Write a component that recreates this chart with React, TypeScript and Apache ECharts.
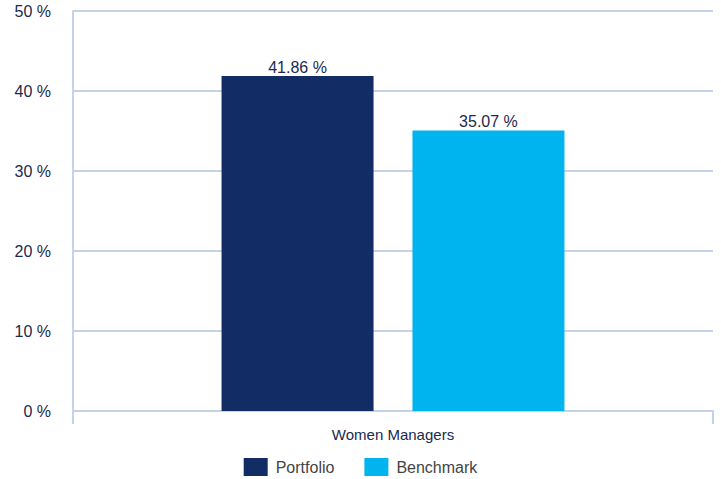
import React, { useEffect, useRef } from "react";
import * as echarts from "echarts";

const categories = ["Women Managers"];
const portfolioValues = [41.86];
const benchmarkValues = [35.07];
const yTicks = { min: 0, max: 50, interval: 10 };

export default function App() {
  const ref = useRef<HTMLDivElement>(null);
  useEffect(() => {
    document.body.style.margin = "0";
    const chart = echarts.init(ref.current!, null, { renderer: "svg" });
    const labelStyle = {
      show: true,
      position: "top" as const,
      distance: 1,
      color: "#1b2a4e",
      fontSize: 16,
      fontFamily: "Liberation Sans",
      formatter: (p: any) => p.value.toFixed(2) + " %",
    };
    chart.setOption({
      animation: false,
      textStyle: { fontFamily: "Liberation Sans" },
      grid: { left: 73, right: 8, top: 11, bottom: 68 },
      legend: {
        bottom: 3,
        left: "center",
        padding: 0,
        itemWidth: 24,
        itemHeight: 18,
        itemGap: 30,
        icon: "rect",
        textStyle: { color: "#444", fontSize: 16, fontFamily: "Liberation Sans", padding: [0, 0, 0, 3] },
        data: ["Portfolio", "Benchmark"],
      },
      xAxis: {
        type: "category",
        data: categories,
        axisLine: { lineStyle: { color: "#c5d3e8", width: 2 } },
        axisTick: { show: true, length: 13, lineStyle: { color: "#c5d3e8", width: 2 } },
        axisLabel: { color: "#1b2a4e", fontSize: 15, margin: 16 },
      },
      yAxis: {
        type: "value",
        min: yTicks.min,
        max: yTicks.max,
        interval: yTicks.interval,
        axisLine: { show: true, lineStyle: { color: "#c5d3e8", width: 2 } },
        axisTick: { show: false },
        axisLabel: { color: "#1b2a4e", fontSize: 16, margin: 22, formatter: "{value} %" },
        splitLine: { lineStyle: { color: "#c5d3e8", width: 2 } },
      },
      series: [
        {
          name: "Portfolio",
          type: "bar",
          data: portfolioValues,
          barWidth: 152,
          barGap: "25.6%",
          itemStyle: { color: "#122c66" },
          label: labelStyle,
        },
        {
          name: "Benchmark",
          type: "bar",
          data: benchmarkValues,
          barWidth: 152,
          barGap: "25.6%",
          itemStyle: { color: "#00b5ef" },
          label: labelStyle,
        },
      ],
    });
    return () => chart.dispose();
  }, []);
  return <div ref={ref} style={{ width: 721, height: 479 }} />;
}
